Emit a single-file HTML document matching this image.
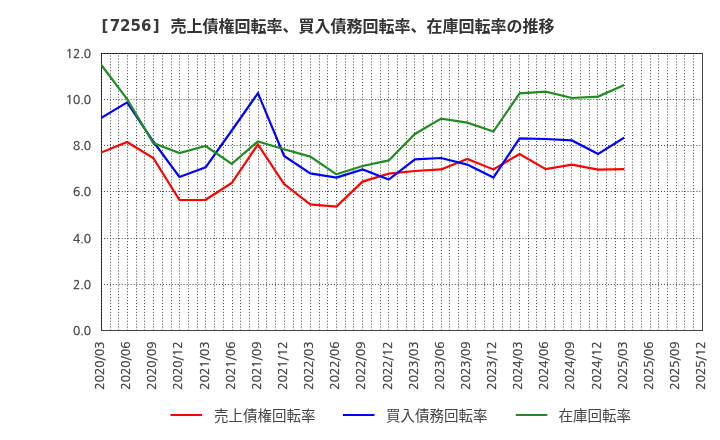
<!DOCTYPE html>
<html lang="ja"><head><meta charset="utf-8"><title>[7256] 売上債権回転率、買入債務回転率、在庫回転率の推移</title>
<style>html,body{margin:0;padding:0;background:#fff}body{width:720px;height:440px;overflow:hidden}svg{display:block;will-change:transform}.t{font-family:"Liberation Sans","Noto Sans CJK JP",sans-serif}.n{font-family:"NanumGothic","Liberation Sans",sans-serif}</style></head><body>
<svg width="720" height="440" viewBox="0 0 720 440">
<rect x="0" y="0" width="720" height="440" fill="#ffffff"/>
<rect x="101.5" y="53.5" width="601" height="277" fill="none" stroke="#444" stroke-width="1" shape-rendering="crispEdges"/>
<path d="M110.5 55.48V330M118.5 55.48V330M127.5 55.48V330M136.5 55.48V330M144.5 55.48V330M153.5 55.48V330M162.5 55.48V330M171.5 55.48V330M179.5 55.48V330M188.5 55.48V330M197.5 55.48V330M205.5 55.48V330M214.5 55.48V330M223.5 55.48V330M232.5 55.48V330M240.5 55.48V330M249.5 55.48V330M258.5 55.48V330M266.5 55.48V330M275.5 55.48V330M284.5 55.48V330M293.5 55.48V330M301.5 55.48V330M310.5 55.48V330M319.5 55.48V330M327.5 55.48V330M336.5 55.48V330M345.5 55.48V330M353.5 55.48V330M362.5 55.48V330M371.5 55.48V330M380.5 55.48V330M388.5 55.48V330M397.5 55.48V330M406.5 55.48V330M414.5 55.48V330M423.5 55.48V330M432.5 55.48V330M441.5 55.48V330M449.5 55.48V330M458.5 55.48V330M467.5 55.48V330M475.5 55.48V330M484.5 55.48V330M493.5 55.48V330M502.5 55.48V330M510.5 55.48V330M519.5 55.48V330M528.5 55.48V330M536.5 55.48V330M545.5 55.48V330M554.5 55.48V330M563.5 55.48V330M571.5 55.48V330M580.5 55.48V330M589.5 55.48V330M597.5 55.48V330M606.5 55.48V330M615.5 55.48V330M624.5 55.48V330M632.5 55.48V330M641.5 55.48V330M650.5 55.48V330M658.5 55.48V330M667.5 55.48V330M676.5 55.48V330M684.5 55.48V330M693.5 55.48V330" stroke="#444" stroke-width="1" stroke-dasharray="1 1.947" fill="none"/>
<path d="M101.1 99.5H702M101.1 145.5H702M101.1 191.5H702M101.1 238.5H702M101.1 284.5H702" stroke="#444" stroke-width="1" stroke-dasharray="1 1.947" fill="none"/>
<path d="M101.5 55.48V330M101.1 53.5H702" stroke="#000" stroke-width="1" stroke-dasharray="1 1.947" fill="none"/>
<clipPath id="pc"><rect x="101" y="53" width="602" height="278"/></clipPath><g clip-path="url(#pc)">
<polyline points="100.95,152.60 127.12,142.00 153.28,158.00 179.44,200.00 205.61,199.80 231.77,183.00 257.94,144.40 284.11,184.00 310.27,204.40 336.44,206.60 362.60,181.60 388.76,173.60 414.93,171.00 441.09,169.40 467.26,159.00 493.42,169.40 519.59,154.00 545.75,169.20 571.92,164.60 598.09,169.60 624.25,169.20" fill="none" stroke="#ff0000" stroke-width="2.2" stroke-linejoin="miter" stroke-linecap="butt"/>
<polyline points="100.95,118.00 127.12,102.40 153.28,141.50 179.44,177.00 205.61,167.40 231.77,130.50 257.94,93.20 284.11,156.00 310.27,173.40 336.44,177.60 362.60,169.40 388.76,179.60 414.93,159.40 441.09,158.00 467.26,164.60 493.42,177.60 519.59,138.40 545.75,139.00 571.92,140.40 598.09,154.00 624.25,137.60" fill="none" stroke="#0000ff" stroke-width="2.2" stroke-linejoin="miter" stroke-linecap="butt"/>
<polyline points="100.95,64.50 127.12,99.10 153.28,143.10 179.44,153.00 205.61,146.00 231.77,163.80 257.94,141.40 284.11,149.20 310.27,156.60 336.44,174.40 362.60,166.00 388.76,160.40 414.93,134.00 441.09,118.60 467.26,122.60 493.42,131.50 519.59,93.40 545.75,91.60 571.92,98.00 598.09,96.60 624.25,85.00" fill="none" stroke="#228b22" stroke-width="2.2" stroke-linejoin="miter" stroke-linecap="butt"/>
</g>
<text class="n" x="91.1" y="58.2" font-size="12" fill="#3c3c3c" stroke="#3c3c3c" stroke-width="0.3" text-anchor="end">12.0</text>
<text class="n" x="91.1" y="104.2" font-size="12" fill="#3c3c3c" stroke="#3c3c3c" stroke-width="0.3" text-anchor="end">10.0</text>
<text class="n" x="91.1" y="150.2" font-size="12" fill="#3c3c3c" stroke="#3c3c3c" stroke-width="0.3" text-anchor="end">8.0</text>
<text class="n" x="91.1" y="196.2" font-size="12" fill="#3c3c3c" stroke="#3c3c3c" stroke-width="0.3" text-anchor="end">6.0</text>
<text class="n" x="91.1" y="243.2" font-size="12" fill="#3c3c3c" stroke="#3c3c3c" stroke-width="0.3" text-anchor="end">4.0</text>
<text class="n" x="91.1" y="289.2" font-size="12" fill="#3c3c3c" stroke="#3c3c3c" stroke-width="0.3" text-anchor="end">2.0</text>
<text class="n" x="91.1" y="335.2" font-size="12" fill="#3c3c3c" stroke="#3c3c3c" stroke-width="0.3" text-anchor="end">0.0</text>
<text class="n" font-size="12" fill="#3c3c3c" stroke="#3c3c3c" stroke-width="0.3" text-anchor="end" transform="translate(104.10,341.5) rotate(-90)">2020/03</text>
<text class="n" font-size="12" fill="#3c3c3c" stroke="#3c3c3c" stroke-width="0.3" text-anchor="end" transform="translate(130.23,341.5) rotate(-90)">2020/06</text>
<text class="n" font-size="12" fill="#3c3c3c" stroke="#3c3c3c" stroke-width="0.3" text-anchor="end" transform="translate(156.36,341.5) rotate(-90)">2020/09</text>
<text class="n" font-size="12" fill="#3c3c3c" stroke="#3c3c3c" stroke-width="0.3" text-anchor="end" transform="translate(182.49,341.5) rotate(-90)">2020/12</text>
<text class="n" font-size="12" fill="#3c3c3c" stroke="#3c3c3c" stroke-width="0.3" text-anchor="end" transform="translate(208.62,341.5) rotate(-90)">2021/03</text>
<text class="n" font-size="12" fill="#3c3c3c" stroke="#3c3c3c" stroke-width="0.3" text-anchor="end" transform="translate(234.75,341.5) rotate(-90)">2021/06</text>
<text class="n" font-size="12" fill="#3c3c3c" stroke="#3c3c3c" stroke-width="0.3" text-anchor="end" transform="translate(260.88,341.5) rotate(-90)">2021/09</text>
<text class="n" font-size="12" fill="#3c3c3c" stroke="#3c3c3c" stroke-width="0.3" text-anchor="end" transform="translate(287.01,341.5) rotate(-90)">2021/12</text>
<text class="n" font-size="12" fill="#3c3c3c" stroke="#3c3c3c" stroke-width="0.3" text-anchor="end" transform="translate(313.14,341.5) rotate(-90)">2022/03</text>
<text class="n" font-size="12" fill="#3c3c3c" stroke="#3c3c3c" stroke-width="0.3" text-anchor="end" transform="translate(339.27,341.5) rotate(-90)">2022/06</text>
<text class="n" font-size="12" fill="#3c3c3c" stroke="#3c3c3c" stroke-width="0.3" text-anchor="end" transform="translate(365.40,341.5) rotate(-90)">2022/09</text>
<text class="n" font-size="12" fill="#3c3c3c" stroke="#3c3c3c" stroke-width="0.3" text-anchor="end" transform="translate(391.53,341.5) rotate(-90)">2022/12</text>
<text class="n" font-size="12" fill="#3c3c3c" stroke="#3c3c3c" stroke-width="0.3" text-anchor="end" transform="translate(417.67,341.5) rotate(-90)">2023/03</text>
<text class="n" font-size="12" fill="#3c3c3c" stroke="#3c3c3c" stroke-width="0.3" text-anchor="end" transform="translate(443.80,341.5) rotate(-90)">2023/06</text>
<text class="n" font-size="12" fill="#3c3c3c" stroke="#3c3c3c" stroke-width="0.3" text-anchor="end" transform="translate(469.93,341.5) rotate(-90)">2023/09</text>
<text class="n" font-size="12" fill="#3c3c3c" stroke="#3c3c3c" stroke-width="0.3" text-anchor="end" transform="translate(496.06,341.5) rotate(-90)">2023/12</text>
<text class="n" font-size="12" fill="#3c3c3c" stroke="#3c3c3c" stroke-width="0.3" text-anchor="end" transform="translate(522.19,341.5) rotate(-90)">2024/03</text>
<text class="n" font-size="12" fill="#3c3c3c" stroke="#3c3c3c" stroke-width="0.3" text-anchor="end" transform="translate(548.32,341.5) rotate(-90)">2024/06</text>
<text class="n" font-size="12" fill="#3c3c3c" stroke="#3c3c3c" stroke-width="0.3" text-anchor="end" transform="translate(574.45,341.5) rotate(-90)">2024/09</text>
<text class="n" font-size="12" fill="#3c3c3c" stroke="#3c3c3c" stroke-width="0.3" text-anchor="end" transform="translate(600.58,341.5) rotate(-90)">2024/12</text>
<text class="n" font-size="12" fill="#3c3c3c" stroke="#3c3c3c" stroke-width="0.3" text-anchor="end" transform="translate(626.71,341.5) rotate(-90)">2025/03</text>
<text class="n" font-size="12" fill="#3c3c3c" stroke="#3c3c3c" stroke-width="0.3" text-anchor="end" transform="translate(652.84,341.5) rotate(-90)">2025/06</text>
<text class="n" font-size="12" fill="#3c3c3c" stroke="#3c3c3c" stroke-width="0.3" text-anchor="end" transform="translate(678.97,341.5) rotate(-90)">2025/09</text>
<text class="n" font-size="12" fill="#3c3c3c" stroke="#3c3c3c" stroke-width="0.3" text-anchor="end" transform="translate(705.10,341.5) rotate(-90)">2025/12</text>
<text x="102" y="31.3" font-size="15" font-weight="bold" fill="#3a3a3a" style="font-family:'DejaVu Sans','Noto Sans CJK JP',sans-serif"><tspan x="101.5">[</tspan><tspan x="109.7">7256</tspan><tspan x="152.8">]</tspan></text>
<text x="170.6" y="31.5" font-size="16" font-weight="bold" fill="#333" style="font-family:'Liberation Sans','Noto Sans CJK JP',sans-serif">売上債権回転率、買入債務回転率、在庫回転率の推移</text>
<line x1="170.5" y1="415" x2="202.0" y2="415" stroke="#ff0000" stroke-width="2"/>
<text class="t" x="214" y="420.7" font-size="14.5" fill="#444">売上債権回転率</text>
<line x1="343" y1="415" x2="374.5" y2="415" stroke="#0000ff" stroke-width="2"/>
<text class="t" x="386" y="420.7" font-size="14.5" fill="#444">買入債務回転率</text>
<line x1="515.75" y1="415" x2="547.25" y2="415" stroke="#228b22" stroke-width="2"/>
<text class="t" x="558.5" y="420.7" font-size="14.5" fill="#444">在庫回転率</text>
</svg></body></html>
